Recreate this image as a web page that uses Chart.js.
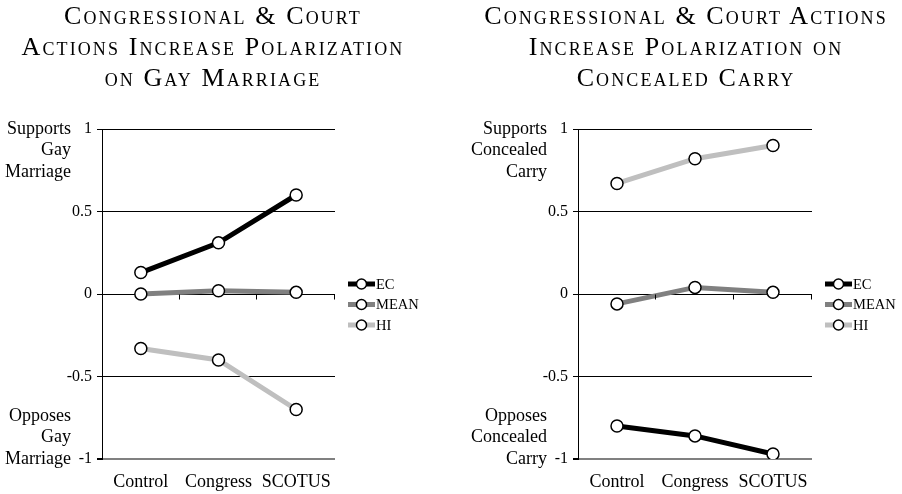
<!DOCTYPE html>
<html><head><meta charset="utf-8">
<script src="https://cdn.jsdelivr.net/npm/chart.js@4"></script>
<style>
html,body{margin:0;padding:0;background:#fff;}
#wrap{position:relative;width:902px;height:494px;overflow:hidden;background:#fff;}
.title{position:absolute;top:0px;width:460px;text-align:center;font-family:"Liberation Serif",serif;font-variant:small-caps;font-size:26px;letter-spacing:2.1px;line-height:31px;color:#000;white-space:nowrap;}
.cv{position:absolute;top:0;width:451px;height:494px;}
</style></head><body>
<div id="wrap">
<div class="cv" style="left:0"><canvas id="c1" width="451" height="494"></canvas></div>
<div class="cv" style="left:451px"><canvas id="c2" width="451" height="494"></canvas></div>
<div class="title" style="left:-17px">Congressional &amp; Court<br>Actions Increase Polarization<br>on Gay Marriage</div>
<div class="title" style="left:456px">Congressional &amp; Court Actions<br>Increase Polarization on<br>Concealed Carry</div>
</div>
<script>
// ---- data ----
const categories = ["Control", "Congress", "SCOTUS"];
const seriesNames = ["EC", "MEAN", "HI"];
const gayEC   = [0.13, 0.31, 0.60];
const gayMEAN = [0.00, 0.02, 0.01];
const gayHI   = [-0.33, -0.40, -0.70];
const carryEC   = [-0.80, -0.86, -0.97];
const carryMEAN = [-0.06, 0.04, 0.01];
const carryHI   = [0.67, 0.82, 0.90];
const yTickLabels = ["-1", "-0.5", "0", "0.5", "1"];
const gayTopLabel = ["Supports", "Gay", "Marriage"];
const gayBottomLabel = ["Opposes", "Gay", "Marriage"];
const carryTopLabel = ["Supports", "Concealed", "Carry"];
const carryBottomLabel = ["Opposes", "Concealed", "Carry"];

const seriesColors = ["#000000", "#808080", "#bfbfbf"];
const FONT = '"Liberation Serif", "Times New Roman", serif';

const decorPlugin = {
  id: 'decor',
  afterDatasetsDraw(chart, args, opts) {
    const ctx = chart.ctx;
    const ca = chart.chartArea;
    const xs = chart.scales.x, ys = chart.scales.y;
    ctx.save();
    // x-axis tick marks on the zero line
    const y0 = Math.round(ys.getPixelForValue(0)) + 0.5;
    ctx.strokeStyle = '#000'; ctx.lineWidth = 1;
    ctx.beginPath();
    for (let i = 1; i <= categories.length; i++) {
      let x = i < categories.length ? (xs.getPixelForValue(i - 1) + xs.getPixelForValue(i)) / 2 : ca.right;
      x = Math.round(x) - 0.5;
      ctx.moveTo(x, y0); ctx.lineTo(x, y0 + 5);
    }
    ctx.stroke();
    // side labels
    ctx.fillStyle = '#000';
    ctx.font = '18px ' + FONT;
    ctx.textAlign = 'right'; ctx.textBaseline = 'middle';
    const lx = ca.left - opts.labelGap;
    const yTop = ys.getPixelForValue(1), yBot = ys.getPixelForValue(-1);
    const lh = 21.5;
    opts.top.forEach((t, i) => ctx.fillText(t, lx, yTop + i * lh));
    opts.bottom.forEach((t, i) => ctx.fillText(t, lx, yBot - (opts.bottom.length - 1 - i) * lh));
    // legend
    const ly0 = ys.getPixelForValue(0) - 10;
    chart.data.datasets.forEach((ds, i) => {
      const y = ly0 + i * 20.5;
      const x1 = ca.right + 13, x2 = ca.right + 40;
      ctx.strokeStyle = ds.borderColor; ctx.lineWidth = 5; ctx.lineCap = 'butt';
      ctx.beginPath(); ctx.moveTo(x1, y); ctx.lineTo(x2, y); ctx.stroke();
      ctx.beginPath(); ctx.arc((x1 + x2) / 2, y, 5, 0, Math.PI * 2);
      ctx.fillStyle = '#fff'; ctx.fill();
      ctx.strokeStyle = '#000'; ctx.lineWidth = 1.5; ctx.stroke();
      ctx.fillStyle = '#000'; ctx.font = '14.5px ' + FONT;
      ctx.textAlign = 'left'; ctx.textBaseline = 'middle';
      ctx.fillText(ds.label, x2 + 1, y + 1);
    });
    ctx.restore();
  }
};

function makeChart(id, ec, mean, hi, axisLeft, rightPad, topLabel, bottomLabel) {
  const values = [ec, mean, hi];
  return new Chart(document.getElementById(id), {
    type: 'line',
    data: {
      labels: categories,
      datasets: seriesNames.map((n, i) => ({
        label: n, data: values[i],
        borderColor: seriesColors[i], borderWidth: 5, tension: 0,
        pointRadius: 6, pointHoverRadius: 6,
        pointBackgroundColor: '#fff', pointBorderColor: '#000', pointBorderWidth: 1.5
      }))
    },
    options: {
      responsive: false, animation: false, devicePixelRatio: 1,
      events: [],
      layout: { padding: { left: 0, right: rightPad, top: 129, bottom: 0 } },
      plugins: { legend: { display: false }, tooltip: { enabled: false },
        decor: { labelGap: 31, top: topLabel, bottom: bottomLabel } },
      scales: {
        x: {
          offset: true,
          grid: { display: false, drawTicks: false },
          border: { display: false },
          ticks: { color: '#000', font: { family: FONT, size: 18 }, padding: 12, maxRotation: 0 },
          afterFit: s => { s.height = 35; }
        },
        y: {
          min: -1, max: 1,
          grid: {
            color: c => (c.tick && c.tick.value === -1) ? '#808080' : '#000',
            lineWidth: c => (c.tick && c.tick.value === -1) ? 2 : 1,
            tickLength: 5, tickColor: '#000'
          },
          border: { display: true, color: '#000', width: 1 },
          ticks: { stepSize: 0.5, color: '#000', font: { family: FONT, size: 16 }, padding: 5,
            callback: (v, i) => yTickLabels[i] },
          afterFit: s => { s.width = axisLeft; }
        }
      }
    },
    plugins: [decorPlugin]
  });
}

makeChart('c1', gayEC, gayMEAN, gayHI, 102, 116, gayTopLabel, gayBottomLabel);
makeChart('c2', carryEC, carryMEAN, carryHI, 127, 90, carryTopLabel, carryBottomLabel);
</script>
</body></html>
